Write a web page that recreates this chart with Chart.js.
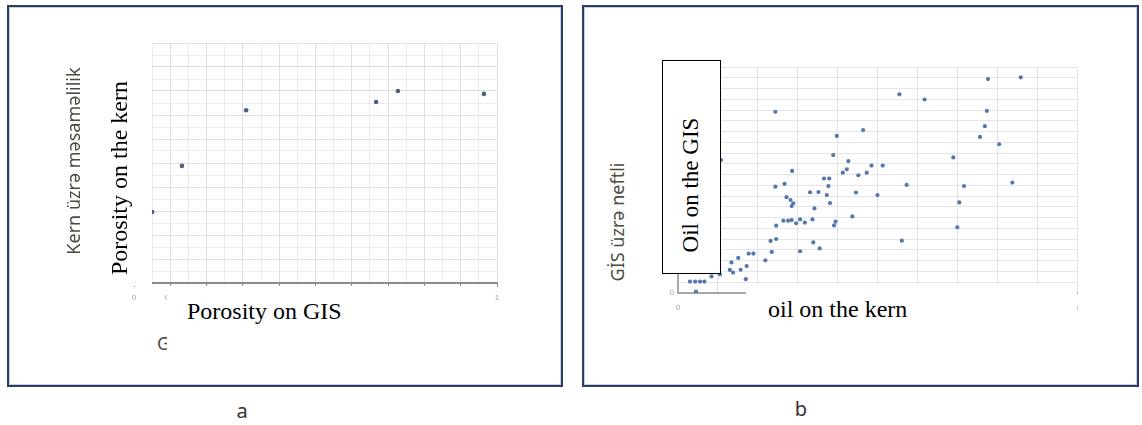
<!DOCTYPE html>
<html lang="az">
<head>
  <meta charset="UTF-8" />
  <title>Porosity and oil saturation: kern vs GIS</title>
  <script src="https://cdn.jsdelivr.net/npm/chart.js"></script>
  <style>
    body {
      margin: 0;
      width: 1142px;
      height: 425px;
      position: relative;
      background: #fff;
      overflow: hidden;
      font-family: "Noto Sans", sans-serif;
    }
    .panel {
      position: absolute;
      top: 5px;
      height: 378px;
      border: 2px solid #2b3d63;
      box-shadow: inset 0 0 0 1px #c3cfe6;
      background: #fff;
    }
    .holder { position: absolute; }
    .cover { position: absolute; background: #fff; z-index: 2; }
    .framed { border: 1px solid #000; box-sizing: border-box; }
    .txt { position: absolute; white-space: nowrap; z-index: 3; }
    .rot { transform: translate(-50%, -50%) rotate(-90deg); }
    .serif { font-family: "Liberation Serif", "Times New Roman", serif; color: #000; }
    .axt { color: #4a4a3e; font-size: 18px; }
    .cap { font-size: 20px; color: #333; transform: translate(-50%, -50%); }
  </style>
</head>
<body>
  <div class="panel" style="left:7px; width:552px;"></div>
  <div class="panel" style="left:582px; width:553px;"></div>

  <div class="holder" style="left:100px; top:30px; width:420px; height:300px;">
    <canvas id="chartA"></canvas>
  </div>
  <div class="holder" style="left:640px; top:50px; width:460px; height:280px;">
    <canvas id="chartB"></canvas>
  </div>

  <!-- panel a: texts and the white boxes laid over the chart -->
  <div class="txt axt rot" style="left:73px; top:161px;">Kern üzrə məsaməlilik</div>
  <div class="txt axt" style="left:157px; top:331px; z-index:1;">GİS üzrə məsaməlilik</div>
  <div class="cover" style="left:95px; top:36px; width:57px; height:250px;"></div>
  <div class="txt serif rot" style="left:119px; top:178px; font-size:24px;">Porosity on the kern</div>
  <div class="cover" style="left:167px; top:286px; width:322px; height:84px;"></div>
  <div class="txt serif" style="left:187px; top:298px; font-size:24px;">Porosity on GIS</div>

  <!-- panel b -->
  <div class="txt axt rot" style="left:617px; top:222px;">GİS üzrə neftli</div>
  <div class="cover framed" style="left:662px; top:60px; width:59px; height:214px;"></div>
  <div class="txt serif rot" style="left:691px; top:185px; font-size:23px;">Oil on the GIS</div>
  <div class="cover" style="left:746px; top:284px; width:331px; height:40px;"></div>
  <div class="txt serif" style="left:768px; top:296px; font-size:24px;">oil on the kern</div>

  <div class="txt cap" style="left:242px; top:410px;">a</div>
  <div class="txt cap" style="left:801px; top:408px;">b</div>

  <script>
    // panel a: porosity, GIS (x) vs kern (y)
    const aPorosityGIS  = [0.05, 0.132, 0.309, 0.667, 0.727, 0.964];
    const aPorosityKern = [0.296, 0.488, 0.72, 0.754, 0.80, 0.788];
    const aXTickLabels = ['0', '0,1', '0,2', '0,3', '0,4', '0,5', '0,6', '0,7', '0,8', '0,9', '1'];

    // panel b: oil saturation, kern (x) vs GIS (y)
    const bOilKern = [
      0.244, 0.398, 0.464, 0.389, 0.427, 0.423, 0.413, 0.452, 0.286, 0.366,
      0.379, 0.244, 0.267, 0.377, 0.331, 0.352, 0.373, 0.381, 0.446, 0.272,
      0.282, 0.289, 0.285, 0.342, 0.246, 0.264, 0.276, 0.285, 0.296, 0.306,
      0.318, 0.337, 0.395, 0.391, 0.437, 0.232, 0.246, 0.339, 0.355, 0.306,
      0.177, 0.189, 0.235, 0.219, 0.134, 0.151, 0.172, 0.130, 0.138, 0.157,
      0.170, 0.084, 0.105, 0.030, 0.043, 0.055, 0.066, 0.045, 0.108,
      0.777, 0.859, 0.555, 0.618, 0.774, 0.769, 0.757, 0.805, 0.690, 0.485,
      0.513, 0.473, 0.573, 0.717, 0.838, 0.500, 0.705, 0.700, 0.561
    ];
    const bOilGIS = [
      0.842, 0.730, 0.757, 0.641, 0.613, 0.575, 0.559, 0.547, 0.567, 0.532,
      0.532, 0.494, 0.507, 0.497, 0.468, 0.469, 0.455, 0.418, 0.467, 0.445,
      0.432, 0.417, 0.404, 0.393, 0.313, 0.336, 0.336, 0.339, 0.324, 0.342,
      0.327, 0.342, 0.332, 0.314, 0.356, 0.242, 0.251, 0.235, 0.207, 0.194,
      0.183, 0.183, 0.191, 0.152, 0.142, 0.163, 0.125, 0.107, 0.095, 0.108,
      0.064, 0.077, 0.086, 0.053, 0.053, 0.053, 0.053, 0.007, 0.618,
      0.994, 1.002, 0.923, 0.899, 0.846, 0.775, 0.725, 0.691, 0.630, 0.592,
      0.592, 0.559, 0.502, 0.497, 0.513, 0.455, 0.421, 0.305, 0.243
    ];
    const bXTickLabels = ['0', '', '', '', '', '', '', '', '', '', '1'];

    Chart.defaults.font.family = "Liberation Sans";
    Chart.defaults.font.size = 8;
    Chart.defaults.color = "#a0a0a0";

    function toPoints(xs, ys) {
      return xs.map((x, i) => ({ x: x, y: ys[i] }));
    }

    new Chart(document.getElementById("chartA"), {
      type: "scatter",
      data: {
        datasets: [{
          data: toPoints(aPorosityGIS, aPorosityKern),
          backgroundColor: "#4d5f84",
          borderWidth: 0,
          pointRadius: 2.3
        }]
      },
      options: {
        responsive: true,
        maintainAspectRatio: false,
        animation: false,
        plugins: { legend: { display: false }, tooltip: { enabled: false } },
        layout: { padding: { top: 13, right: 23, left: 0, bottom: 0 } },
        scales: {
          x: {
            min: 0, max: 1,
            afterFit: s => { s.height = 47; },
            ticks: {
              stepSize: 0.05, autoSkip: false, maxRotation: 0, padding: 6,
              callback: (v, i) => i % 2 === 0 ? aXTickLabels[i / 2] : ''
            },
            grid: {
              color: c => c.index % 2 === 0 ? "#dedede" : "#ececec",
              tickColor: c => c.index % 2 === 0 ? "#8a8a8a" : "transparent",
              tickLength: 4
            },
            border: { color: "#8a8a8a", width: 2 }
          },
          y: {
            min: 0, max: 1,
            afterFit: s => { s.width = 34; },
            ticks: { stepSize: 0.05, display: false },
            grid: {
              color: c => c.index % 2 === 0 ? "#dedede" : "#ececec",
              drawTicks: false
            },
            border: { color: "#8a8a8a", width: 2 }
          }
        }
      }
    });

    new Chart(document.getElementById("chartB"), {
      type: "scatter",
      data: {
        datasets: [{
          data: toPoints(bOilKern, bOilGIS),
          backgroundColor: "#5577b0",
          borderWidth: 0,
          pointRadius: 2.1
        }]
      },
      options: {
        responsive: true,
        maintainAspectRatio: false,
        animation: false,
        plugins: { legend: { display: false }, tooltip: { enabled: false } },
        layout: { padding: { top: 17, right: 23, left: 0, bottom: 0 } },
        scales: {
          x: {
            min: 0, max: 1,
            afterFit: s => { s.height = 37; },
            ticks: {
              stepSize: 0.1, autoSkip: false, maxRotation: 0, padding: 10,
              callback: (v, i) => bXTickLabels[i]
            },
            grid: { color: "#e4e4e4", drawTicks: false },
            border: { color: "#a8a8a8", width: 2 }
          },
          y: {
            min: 0, max: 1.05,
            afterFit: s => { s.width = 38; },
            ticks: {
              stepSize: 0.05, autoSkip: false, padding: 4,
              callback: (v, i) => i === 0 ? '0' : ''
            },
            grid: { color: "#e6e6e6", drawTicks: false },
            border: { color: "#a8a8a8", width: 2 }
          }
        }
      }
    });
  </script>
</body>
</html>
